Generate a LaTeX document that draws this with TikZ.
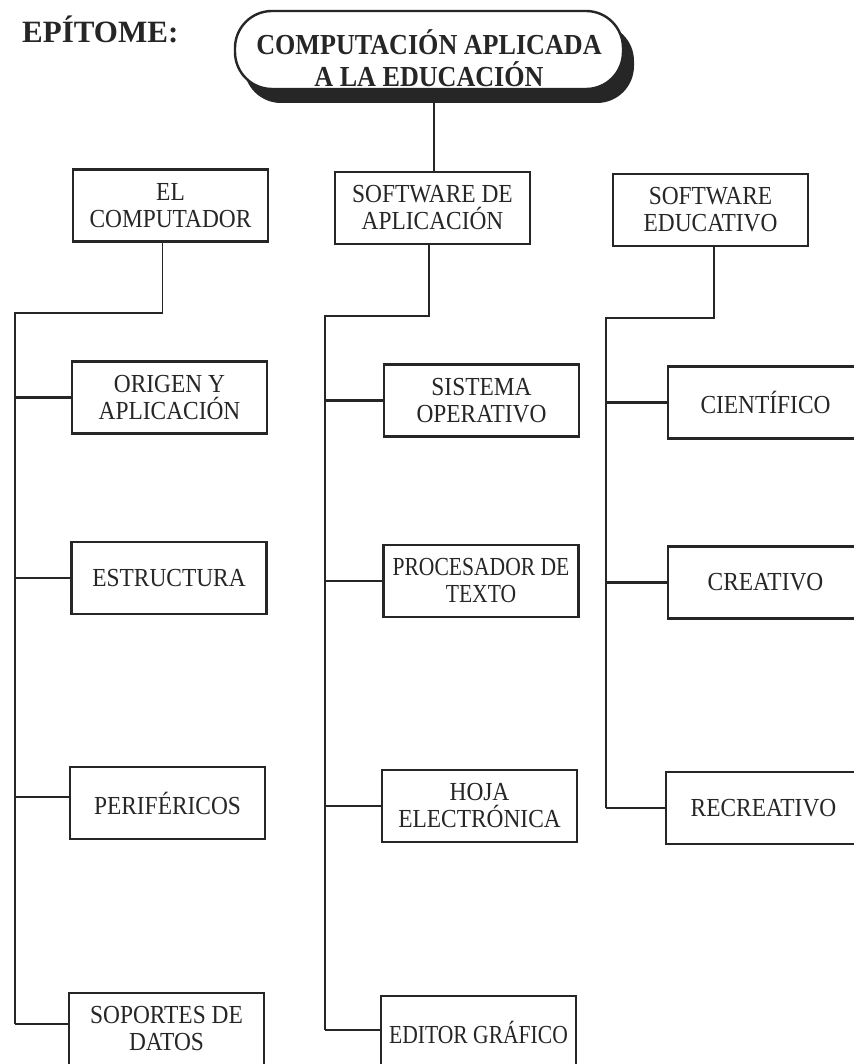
\documentclass[tikz,border=0pt]{standalone}
\usepackage{fontspec}
\setmainfont{Liberation Serif}
\newfontfamily\condserif[FakeStretch=0.9]{Liberation Serif}
\newfontfamily\narrowserif[FakeStretch=0.83]{Liberation Serif}
\begin{document}
\begin{tikzpicture}[x=1pt,y=-1pt,
  box/.style={draw=black!85, line width=2.4pt, minimum width=195pt, minimum height=72pt,
    align=center, inner sep=1pt, text=black!85, font=\condserif\fontsize{26}{27}\selectfont},
  narrow/.style={font=\narrowserif\fontsize{26}{27}\selectfont},
  trunk/.style={draw=black!85, line width=1.6pt},
  branch/.style={draw=black!85, line width=2.6pt},
  pill/.style={draw=black!85, line width=2.4pt, fill=white, rounded corners=37pt},
  pillshadow/.style={fill=black!85, rounded corners=37pt},
  roottext/.style={align=center, inner sep=0pt, text=black!85, font=\condserif\bfseries\fontsize{29}{32}\selectfont},
  title/.style={anchor=base west, inner sep=0pt, text=black!85, font=\bfseries\fontsize{31}{31}\selectfont}]
\useasboundingbox (0,0) rectangle (853,1064);
\fill[white] (0,0) rectangle (853,1064);

% title
\node[title] (epi) at (22,43) {EPÍTOME:};

% root
\fill[pillshadow] (244,24) rectangle (634,103);
\draw[pill] (235,11) rectangle (623,89);
\node[roottext] (root) at (429,58) {COMPUTACIÓN APLICADA\\A LA EDUCACIÓN};
\coordinate (rootb) at (434,102);

% level 1
\node[box] (comp) at (170.5,205.5) {EL\\COMPUTADOR};
\node[box] (swa) at (432.5,208) {SOFTWARE DE\\APLICACIÓN};
\node[box] (swe) at (710.5,210) {SOFTWARE\\EDUCATIVO};

% left column
\node[box] (origen) at (169.5,397.5) {ORIGEN Y\\APLICACIÓN};
\node[box] (estr) at (169,578) {ESTRUCTURA};
\node[box] (perif) at (167.5,803) {PERIFÉRICOS};
\node[box] (soport) at (166.5,1029) {SOPORTES DE\\DATOS};

% middle column
\node[box] (sistema) at (481.5,400.5) {SISTEMA\\OPERATIVO};
\node[box, narrow] (proces) at (481,581) {PROCESADOR DE\\TEXTO};
\node[box] (hoja) at (479.5,806) {HOJA\\ELECTRÓNICA};
\node[box, narrow] (editor) at (478.5,1032) {EDITOR GRÁFICO};

% right column
\node[box] (cient) at (765.5,402.5) {CIENTÍFICO};
\node[box] (creat) at (765.5,582.5) {CREATIVO};
\node[box] (recre) at (763.5,808) {RECREATIVO};

% root connector
\draw[trunk] (rootb) -- (rootb |- swa.north);

% trunk corners
\coordinate (L0) at (15,313);
\coordinate (M0) at (325,316);
\coordinate (R0) at (606,318);

% left trunk
\draw[trunk] ([xshift=-8pt]comp.south) |- (L0) -- ([yshift=5pt]L0 |- soport.west);
\draw[branch] (L0 |- origen.west) -- (origen.west);
\draw[branch] (L0 |- estr.west) -- (estr.west);
\draw[branch] ([yshift=6pt]L0 |- perif.west) -- ([yshift=6pt]perif.west);
\draw[branch] ([yshift=5pt]L0 |- soport.west) -- ([yshift=5pt]soport.west);

% middle trunk
\draw[trunk] ([xshift=-3.5pt]swa.south) |- (M0) -- ([yshift=2pt]M0 |- editor.west);
\draw[branch] (M0 |- sistema.west) -- (sistema.west);
\draw[branch] (M0 |- proces.west) -- (proces.west);
\draw[branch] (M0 |- hoja.west) -- (hoja.west);
\draw[branch] ([yshift=2pt]M0 |- editor.west) -- ([yshift=2pt]editor.west);

% right trunk
\draw[trunk] ([xshift=3.5pt]swe.south) |- (R0) -- (R0 |- recre.west);
\draw[branch] (R0 |- cient.west) -- (cient.west);
\draw[branch] (R0 |- creat.west) -- (creat.west);
\draw[branch] (R0 |- recre.west) -- (recre.west);
\end{tikzpicture}
\end{document}
